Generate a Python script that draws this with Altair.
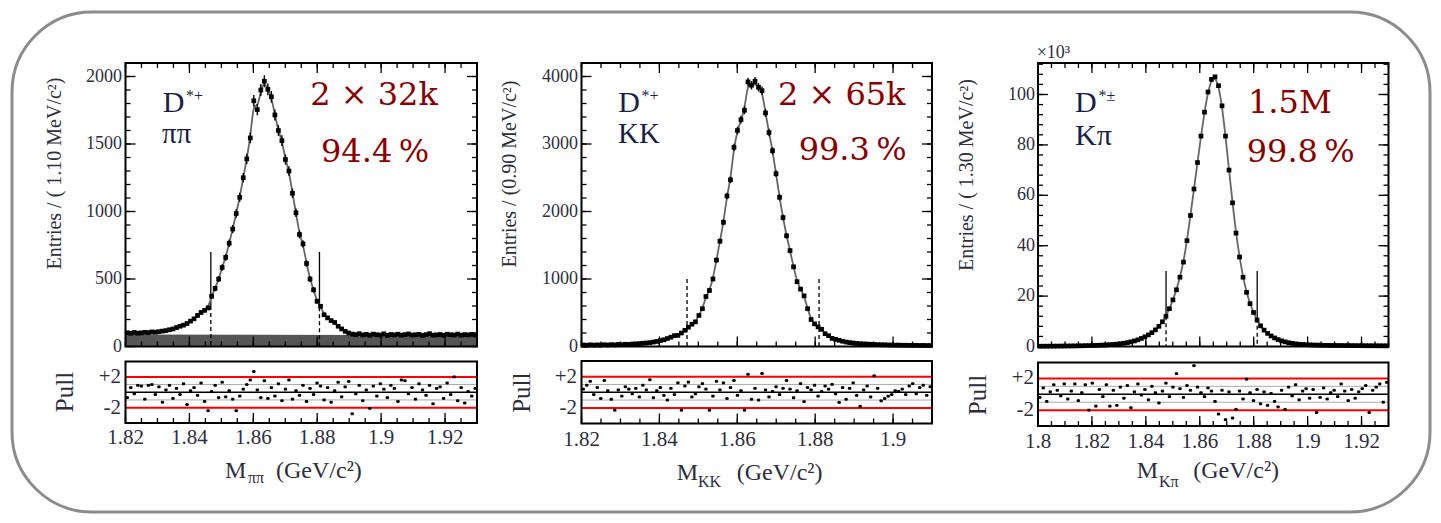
import altair as alt
import numpy as np
import pandas as pd

W, H = 1425, 507

# ---------------- data ----------------
# D*+ -> pi pi : entries per 1.10 MeV bin, 1.82 - 1.93 GeV
pp_counts = [102, 98, 104, 99, 101, 105, 103, 108, 106, 110,
             114, 118, 124, 130, 140, 150, 158, 170, 188, 205,
             230, 252, 268, 286, 372, 430, 500, 585, 660, 765,
             870, 985, 1105, 1250, 1390, 1545, 1820, 1755, 1900, 1965,
             1905, 1850, 1715, 1600, 1525, 1385, 1300, 1135, 990, 830,
             760, 615, 500, 420, 335, 298, 235, 212, 192, 178,
             150, 130, 112, 100, 92, 88, 95, 86, 90, 84,
             92, 87, 85, 94, 83, 89, 86, 91, 84, 88,
             93, 85, 87, 90, 82, 88, 95, 84, 86, 89,
             83, 91, 87, 85, 92, 84, 88, 86, 90, 85]
pp_pull = [-0.7, 0.6, -0.2, 0.9, 0.8, -0.9, 0.9, 1.0, -0.3, 0.7,
           -1.3, 0.3, 0.9, -0.8, 0.5, -0.3, 1.1, -1.6, 0.2, 0.6,
           -0.4, 1.2, -1.2, -2.4, 0.1, 0.9, -0.7, 1.3, -0.6, 0.2,
           -0.9, -2.4, -0.5, 0.4, 1.0, 1.6, 2.7, 0.3, -0.7, 1.5,
           -0.8, 0.6, -0.5, 1.1, -1.1, 0.4, 1.6, -0.9, 0.2, -0.4,
           0.9, -1.2, 0.5, -0.3, 1.2, 0.8, -1.0, 0.6, -1.3, 0.2,
           1.3, -0.6, 0.7, 1.4, -2.8, -0.2, 0.9, -1.1, 0.3, -2.1,
           0.8, -0.5, 1.1, 0.4, -0.7, 0.9, 0.5, -1.2, 1.6, 1.5,
           -0.2, 0.6, -0.9, 1.1, 0.3, -0.4, 0.9, -1.5, 0.5, 0.7,
           -0.8, 1.2, -0.3, 2.0, -1.1, 0.6, -1.4, 0.1, -0.5, 0.5]
pp_bg_x = [1.82, 1.93]
pp_bg_y = [88, 84]
pp_window = [1.8467, 1.8807]
pp_window_top = [700, 700]
pp_window_mid = [300, 290]

# D*+ -> K K : entries per 0.90 MeV bin, 1.82 - 1.91 GeV
kk_counts = [22, 18, 25, 20, 24, 19, 26, 22, 27, 24,
             30, 28, 33, 31, 36, 40, 42, 48, 52, 58,
             66, 75, 88, 100, 118, 138, 160, 165, 200, 240,
             285, 330, 365, 460, 560, 740, 830, 1000, 1280, 1560,
             1840, 2230, 2470, 2950, 3200, 3360, 3500, 3920, 3870, 3930,
             3840, 3790, 3460, 3170, 2900, 2560, 2210, 1910, 1640, 1420,
             1180, 960, 850, 750, 560, 400, 335, 290, 255, 190,
             160, 120, 105, 92, 78, 66, 58, 52, 45, 42,
             38, 36, 33, 30, 28, 26, 25, 23, 22, 20,
             21, 18, 19, 17, 16, 18, 15, 16, 14, 15]
kk_pull = [0.4, 0.9, 1.4, -0.3, 0.6, -0.8, 1.5, 0.2, -0.9, -2.3,
           0.3, -0.5, 0.7, 0.4, -0.2, 0.5, -0.6, 0.9, 0.3, 1.6,
           -0.7, 0.2, 0.6, -0.4, -1.0, 0.5, -0.3, 1.2, -2.3, 0.8,
           1.3, -0.6, -0.2, 0.7, 1.1, 0.4, -2.3, -0.5, 1.4, 0.3,
           1.2, -0.8, 0.6, 1.5, -0.4, 0.2, -2.3, 2.3, -0.9, 0.5,
           -1.0, 2.4, 0.3, -0.6, 0.1, 0.7, -0.3, 0.5, 1.5, 0.4,
           -0.7, 0.2, 1.1, -1.2, 0.6, 0.3, 0.9, -0.5, 0.1, 0.8,
           0.4, 1.0, -0.2, -1.3, 0.6, -0.9, 0.5, 1.2, -0.4, -1.8,
           0.3, 0.8, -0.6, 2.1, 0.5, -1.1, -0.8, -0.5, -0.3, 0.2,
           0.1, 0.4, -0.3, 0.8, 1.1, -0.2, 0.6, 0.9, -0.4, 0.7]
kk_window = [1.8471, 1.8810]
kk_window_top = [1000, 1000]
kk_window_mid = [1000, 1000]

# D*+- -> K pi : entries (x10^3) per 1.30 MeV bin, 1.80 - 1.93 GeV
kp_counts = [0.10, 0.11, 0.12, 0.13, 0.14, 0.15, 0.17, 0.18, 0.20, 0.22,
             0.24, 0.26, 0.29, 0.32, 0.35, 0.39, 0.44, 0.50, 0.56, 0.63,
             0.72, 0.82, 0.95, 1.1, 1.3, 1.55, 1.85, 2.2, 2.65, 3.2,
             3.85, 4.6, 5.5, 6.6, 8.0, 9.8, 12.0, 15.0, 18.5, 22.5,
             27.5, 33.5, 42.0, 52.0, 62.5, 73.0, 83.5, 93.0, 101.0, 106.0,
             107.0, 103.5, 95.5, 83.5, 70.0, 57.0, 45.0, 35.5, 27.5, 21.5,
             17.0, 13.5, 10.5, 8.2, 6.5, 5.2, 4.2, 3.4, 2.75, 2.25,
             1.85, 1.5, 1.25, 1.05, 0.9, 0.8, 0.72, 0.65, 0.6, 0.56,
             0.52, 0.49, 0.46, 0.44, 0.42, 0.40, 0.38, 0.37, 0.36, 0.35,
             0.34, 0.33, 0.32, 0.31, 0.30, 0.30, 0.29, 0.28, 0.28, 0.27]
kp_pull = [-0.4, 0.8, -0.9, 0.3, 1.2, 0.5, -0.2, 1.3, -0.6, 0.4,
           1.3, -0.8, 0.2, 1.2, -2.0, 1.4, -1.5, 0.6, -0.3, 1.2,
           -1.5, 0.5, -1.4, 0.9, -0.5, 1.1, -1.7, 0.3, 1.3, -0.1,
           0.6, -0.7, 1.0, 0.2, -1.1, 0.4, 1.4, -0.3, 0.9, 2.6,
           0.7, -0.4, 1.1, 0.5, 3.6, 0.9, 0.2, -0.3, 0.8, 0.4,
           -0.9, -2.5, 0.5, -3.2, 0.3, -3.0, -1.9, 0.4, -0.6, 1.9,
           0.2, -0.8, 0.6, -1.2, 0.3, -1.4, 0.1, -0.9, -1.6, 0.5,
           -1.9, 0.9, -0.2, 1.2, -0.7, 0.4, 0.7, -0.5, 0.6, -2.3,
           -0.4, 0.8, -0.6, 0.2, 0.5, -0.3, 1.3, 0.4, -0.8, 0.6,
           -0.5, 0.3, 0.7, 1.1, -2.3, 0.5, 0.9, 1.3, -1.0, 1.5]
kp_window = [1.8475, 1.8813]
kp_window_top = [30, 30]
kp_window_mid = [12, 11]

# tick labels
pp_xticks = [1.82, 1.84, 1.86, 1.88, 1.90, 1.92]
pp_xlabels = ["1.82", "1.84", "1.86", "1.88", "1.9", "1.92"]
pp_yticks = [0, 500, 1000, 1500, 2000]
pp_ylabels = ["0", "500", "1000", "1500", "2000"]
kk_xticks = [1.82, 1.84, 1.86, 1.88, 1.90]
kk_xlabels = ["1.82", "1.84", "1.86", "1.88", "1.9"]
kk_yticks = [0, 1000, 2000, 3000, 4000]
kk_ylabels = ["0", "1000", "2000", "3000", "4000"]
kp_xticks = [1.80, 1.82, 1.84, 1.86, 1.88, 1.90, 1.92]
kp_xlabels = ["1.8", "1.82", "1.84", "1.86", "1.88", "1.9", "1.92"]
kp_yticks = [0, 20, 40, 60, 80, 100]
kp_ylabels = ["0", "20", "40", "60", "80", "100"]
pull_ticks = [2, -2]
pull_labels = ["+2", "-2"]

# ---------------- layout / style ----------------
LAB = "#2e2e3e"
NAVY = "#1b1f48"
RED = "#8B0000"
SERIF = "Liberation Serif"

panels = [
    dict(counts=pp_counts, pull=pp_pull, lo=1.82, hi=1.93, bw=0.0011, unit=1.0,
         xr=[117.5, 469], yr=[338.5, 55], pr=[415, 353.5], ymax=2100, ystep=100,
         xt=pp_xticks, xl=pp_xlabels, yt=pp_yticks, yl=pp_ylabels,
         win=pp_window, wtop=pp_window_top, wmid=pp_window_mid, bg=(pp_bg_x, pp_bg_y),
         ylab_x=114, xlab_y=430),
    dict(counts=kk_counts, pull=kk_pull, lo=1.82, hi=1.91, bw=0.0009, unit=1.0,
         xr=[573.5, 924], yr=[338.5, 55], pr=[415.5, 353], ymax=4200, ystep=200,
         xt=kk_xticks, xl=kk_xlabels, yt=kk_yticks, yl=kk_ylabels,
         win=kk_window, wtop=kk_window_top, wmid=kk_window_mid, bg=None,
         ylab_x=570, xlab_y=432),
    dict(counts=kp_counts, pull=kp_pull, lo=1.80, hi=1.93, bw=0.0013, unit=1000.0,
         xr=[1030, 1380.5], yr=[338.5, 55], pr=[418, 354.5], ymax=112.5, ystep=4,
         xt=kp_xticks, xl=kp_xlabels, yt=kp_yticks, yl=kp_ylabels,
         win=kp_window, wtop=kp_window_top, wmid=kp_window_mid, bg=None,
         ylab_x=1027, xlab_y=433.5),
]

one = pd.DataFrame({"a": [0]})


def qs(domain, rng):
    return alt.Scale(domain=list(domain), range=list(rng), nice=False, zero=False)


def txt(s, x, y, size, color=LAB, font=SERIF, align="left", baseline="alphabetic", angle=None):
    kw = dict(text=s, font=font, fontSize=size, color=color, align=align, baseline=baseline)
    if angle is not None:
        kw["angle"] = angle
    return alt.Chart(one).mark_text(**kw).encode(x=alt.value(x), y=alt.value(y))


def build(p):
    L = []
    xs = qs([p["lo"], p["hi"]], p["xr"])
    ys = qs([0, p["ymax"]], p["yr"])
    ps = qs([-4, 4], p["pr"])
    X = lambda f: alt.X(f, type="quantitative", scale=xs, axis=None)
    Y = lambda f: alt.Y(f, type="quantitative", scale=ys, axis=None)
    P = lambda f: alt.Y(f, type="quantitative", scale=ps, axis=None)
    x0, x1 = p["xr"]
    yb, yt = p["yr"]
    pb, pt = p["pr"]

    n = len(p["counts"])
    edges_lo = np.array([p["lo"] + p["bw"] * i for i in range(n)])
    xc = edges_lo + p["bw"] / 2
    v = np.array(p["counts"], dtype=float)
    err = np.sqrt(v * p["unit"]) / p["unit"]
    df = pd.DataFrame({"x": xc, "v": v, "elo": v - err, "ehi": v + err,
                       "xa": edges_lo, "xb": edges_lo + p["bw"], "pull": p["pull"]})

    # background component
    if p["bg"] is not None:
        bg = pd.DataFrame({"x": p["bg"][0], "v": p["bg"][1], "z": [0, 0]})
        L.append(alt.Chart(bg).mark_area(color="#555555", opacity=1).encode(
            x=X("x"), y=Y("v"), y2=alt.Y2("z")))

    # signal window
    wdf = pd.DataFrame({"x": p["win"], "top": p["wtop"], "mid": p["wmid"], "z": [0, 0]})
    L.append(alt.Chart(wdf).mark_rule(color="black", strokeWidth=1.3).encode(
        x=X("x"), y=Y("top"), y2=alt.Y2("mid")))
    L.append(alt.Chart(wdf).mark_rule(color="black", strokeWidth=1.3, strokeDash=[4, 3]).encode(
        x=X("x"), y=Y("mid"), y2=alt.Y2("z")))

    # fit curve
    L.append(alt.Chart(df).mark_line(color="#666666", strokeWidth=1.8, interpolate="basis").encode(
        x=X("x"), y=Y("v")))
    # data points
    L.append(alt.Chart(df).mark_rule(color="black", strokeWidth=1.4).encode(
        x=X("x"), y=Y("elo"), y2=alt.Y2("ehi")))
    L.append(alt.Chart(df).mark_rule(color="black", strokeWidth=1.4).encode(
        x=X("xa"), x2=alt.X2("xb"), y=Y("v")))
    L.append(alt.Chart(df).mark_square(color="black", size=22, opacity=1).encode(
        x=X("x"), y=Y("v")))

    # main frame
    L.append(alt.Chart(one).mark_rect(fillOpacity=0, stroke="black", strokeWidth=2).encode(
        x=alt.value(x0), x2=alt.value(x1), y=alt.value(yt), y2=alt.value(yb)))

    xmin = pd.DataFrame({"t": np.round(np.arange(p["lo"], p["hi"] + 1e-9, 0.005), 4)})
    xmaj = pd.DataFrame({"t": p["xt"], "lab": p["xl"]})
    ymin = pd.DataFrame({"t": np.arange(0, p["ymax"] + 1e-9, p["ystep"])})
    ymaj = pd.DataFrame({"t": p["yt"], "lab": p["yl"]})

    for d, ln in ((xmin, 5), (xmaj, 10)):
        L.append(alt.Chart(d).mark_rule(color="black", strokeWidth=1.3).encode(
            x=X("t"), y=alt.value(yb), y2=alt.value(yb - ln)))
        L.append(alt.Chart(d).mark_rule(color="black", strokeWidth=1.3).encode(
            x=X("t"), y=alt.value(yt), y2=alt.value(yt + ln)))
        L.append(alt.Chart(d).mark_rule(color="black", strokeWidth=1.3).encode(
            x=X("t"), y=alt.value(pb), y2=alt.value(pb - ln)))
    for d, ln in ((ymin, 5), (ymaj, 10)):
        L.append(alt.Chart(d).mark_rule(color="black", strokeWidth=1.3).encode(
            y=Y("t"), x=alt.value(x0), x2=alt.value(x0 + ln)))
        L.append(alt.Chart(d).mark_rule(color="black", strokeWidth=1.3).encode(
            y=Y("t"), x=alt.value(x1), x2=alt.value(x1 - ln)))

    # tick labels
    L.append(alt.Chart(ymaj).mark_text(align="right", baseline="middle", font=SERIF,
                                       fontSize=18, color=LAB).encode(
        x=alt.value(p["ylab_x"]), y=Y("t"), text="lab:N"))
    L.append(alt.Chart(xmaj).mark_text(align="center", baseline="middle", font=SERIF,
                                       fontSize=21, color=LAB).encode(
        x=X("t"), y=alt.value(p["xlab_y"]), text="lab:N"))

    # pull panel
    L.append(alt.Chart(pd.DataFrame({"t": [-1, 1]})).mark_rule(color="#aaaaaa", strokeWidth=1).encode(
        y=P("t"), x=alt.value(x0), x2=alt.value(x1)))
    L.append(alt.Chart(pd.DataFrame({"t": [0]})).mark_rule(color="black", strokeWidth=1.6).encode(
        y=P("t"), x=alt.value(x0), x2=alt.value(x1)))
    L.append(alt.Chart(pd.DataFrame({"t": [-2, 2]})).mark_rule(color="#ff0000", strokeWidth=2).encode(
        y=P("t"), x=alt.value(x0), x2=alt.value(x1)))
    L.append(alt.Chart(df).mark_rule(color="black", strokeWidth=1).encode(
        x=X("xa"), x2=alt.X2("xb"), y=P("pull")))
    L.append(alt.Chart(df).mark_square(color="black", size=8, opacity=1).encode(
        x=X("x"), y=P("pull")))
    L.append(alt.Chart(one).mark_rect(fillOpacity=0, stroke="black", strokeWidth=2).encode(
        x=alt.value(x0), x2=alt.value(x1), y=alt.value(pt), y2=alt.value(pb)))
    pl = pd.DataFrame({"t": pull_ticks, "lab": pull_labels})
    L.append(alt.Chart(pl).mark_text(align="right", baseline="middle", font=SERIF,
                                     fontSize=21, color=LAB).encode(
        x=alt.value(p["ylab_x"] - 1), y=P("t"), text="lab:N"))
    return L


layers = []
# outer rounded frame of the slide
layers.append(alt.Chart(one).mark_rect(fillOpacity=0, stroke="#8c8c8c", strokeWidth=3,
                                       cornerRadius=80).encode(
    x=alt.value(4), x2=alt.value(1422), y=alt.value(4), y2=alt.value(504)))

for p in panels:
    layers += build(p)

# axis titles
layers += [
    txt("Entries / ( 1.10 MeV/c²)", 47, 165.5, 20, angle=270, align="center", baseline="middle"),
    txt("Entries / (0.90 MeV/c²)", 502, 166, 20, angle=270, align="center", baseline="middle"),
    txt("Entries / ( 1.30 MeV/c²)", 958.7, 167, 20, angle=270, align="center", baseline="middle"),
    txt("Pull", 57, 384, 25, angle=270, align="center", baseline="middle"),
    txt("Pull", 513.7, 384.7, 25, angle=270, align="center", baseline="middle"),
    txt("Pull", 970.3, 387, 25, angle=270, align="center", baseline="middle"),
    txt("M", 217, 470, 24), txt("ππ", 240, 475, 16), txt("(GeV/c²)", 268, 470, 24),
    txt("M", 668.7, 472, 24), txt("KK", 690, 478.7, 16), txt("(GeV/c²)", 728.7, 472, 24),
    txt("M", 1128.7, 470.3, 24), txt("Kπ", 1151, 478.7, 16), txt("(GeV/c²)", 1185.3, 470.3, 24),
    txt("×10³", 1028.7, 50.3, 18),
]

# decay labels
layers += [
    txt("D", 154.7, 103.7, 30, color=NAVY), txt("*+", 178, 93, 16, color=NAVY),
    txt("ππ", 154, 135, 29, color=NAVY),
    txt("D", 610.3, 103.7, 30, color=NAVY), txt("*+", 633.5, 93, 16, color=NAVY),
    txt("KK", 610, 134.5, 29, color=NAVY),
    txt("D", 1067, 103.7, 30, color=NAVY), txt("*±", 1090.5, 93, 16, color=NAVY),
    txt("Kπ", 1067, 137, 30, color=NAVY),
]

# yields and purities
layers += [
    txt("2 × 32k", 366, 97, 32, color=RED, font="DejaVu Serif", align="center"),
    txt("94.4\u2009%", 367, 153.7, 32, color=RED, font="DejaVu Serif", align="center"),
    txt("2 × 65k", 833.7, 97, 32, color=RED, font="DejaVu Serif", align="center"),
    txt("99.3\u2009%", 898.7, 152, 32, color=RED, font="DejaVu Serif", align="right"),
    txt("1.5M", 1240, 105.3, 32, color=RED, font="DejaVu Serif", align="left"),
    txt("99.8\u2009%", 1238.7, 153.7, 32, color=RED, font="DejaVu Serif", align="left"),
]

chart = alt.layer(*layers).resolve_scale(
    x="independent", y="independent"
).properties(
    width=W, height=H, padding=0,
    autosize=alt.AutoSizeParams(type="none"),
    background="white",
).configure_view(stroke=None)

chart.save("out.html", embed_options={"renderer": "svg", "actions": False})
